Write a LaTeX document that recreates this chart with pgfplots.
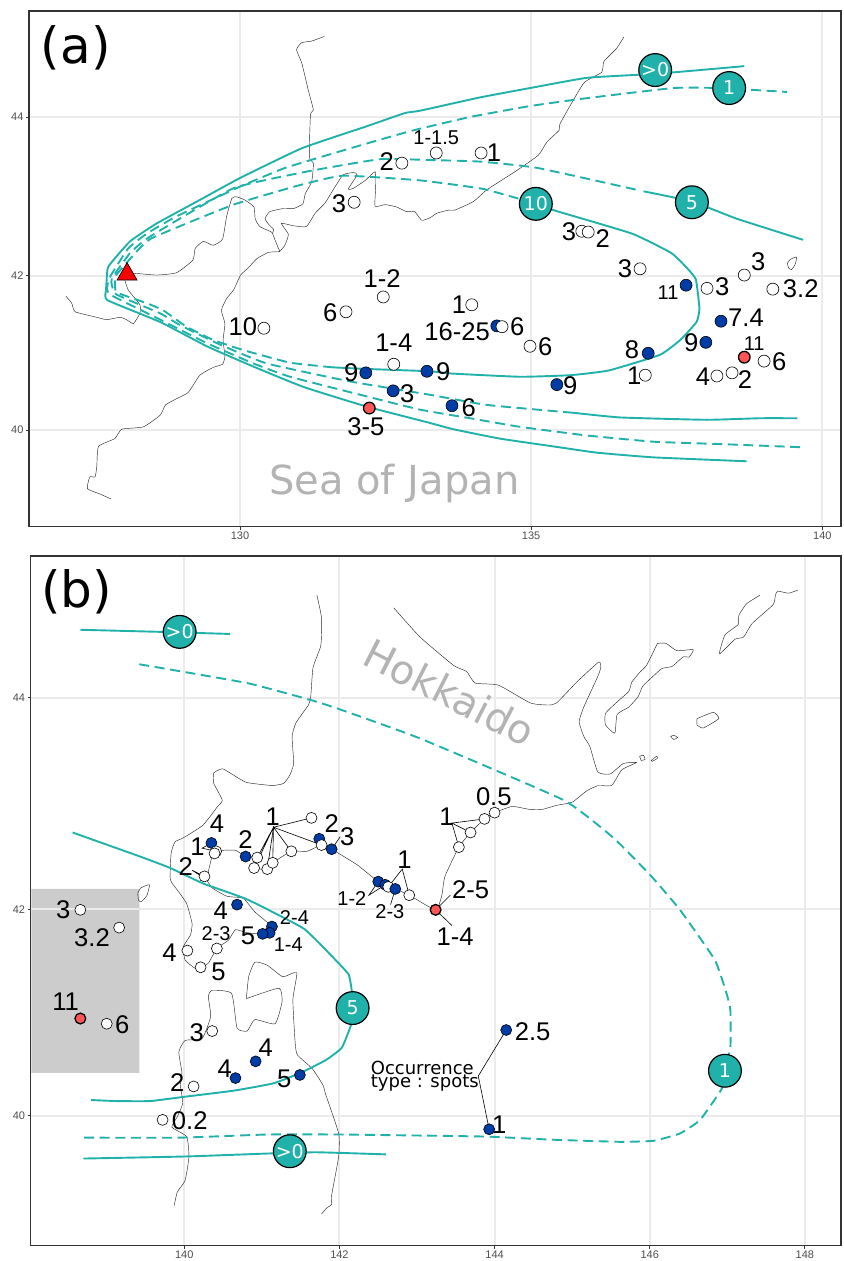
\documentclass[border=0pt]{standalone}
\usepackage{fontspec}
\usepackage{pgfplots}
\pgfplotsset{compat=1.18}
\setmainfont{Liberation Sans}
\newfontfamily\dv{DejaVu Sans}
\definecolor{teal1}{RGB}{32,178,170}
\definecolor{blue1}{RGB}{0,60,165}
\definecolor{red1}{RGB}{255,85,85}
\definecolor{grid1}{RGB}{235,235,235}
\definecolor{frame1}{RGB}{51,51,51}
\definecolor{tick1}{RGB}{77,77,77}
\definecolor{word1}{RGB}{179,179,179}

\newcommand{\lab}[3]{\node[inner sep=0pt,font=\fontsize{12.8}{13}\selectfont] at (axis cs:#1,#2) {#3};}
\newcommand{\slab}[3]{\node[inner sep=0pt,font=\fontsize{10}{11}\selectfont] at (axis cs:#1,#2) {#3};}

\pgfplotsset{
  mapaxis/.style={
    scale only axis, anchor=south west, axis on top=false,
    grid=major, grid style={color=grid1,line width=1pt},
    axis line style={color=frame1,line width=0.7pt},
    tick align=outside, tick pos=lower, major tick length=1.6pt,
    tick style={color=frame1,line width=0.4pt},
    tick label style={font=\fontsize{5.5}{6}\selectfont,text=tick1,inner sep=1pt},
  },
  coast/.style={black!85,line width=0.22pt,smooth,tension=0.3},
  teal/.style={teal1,line width=0.95pt,smooth,tension=0.25},
  tealdash/.style={teal1,line width=0.95pt,smooth,tension=0.25,dash pattern=on 5pt off 2.8pt},
  leader/.style={black,line width=0.3pt},
  openpt/.style={only marks,mark=*,mark size=3pt,mark options={fill=white,draw=black,line width=0.3pt}},
  bluept/.style={only marks,mark=*,mark size=3pt,mark options={fill=blue1,draw=black,line width=0.3pt}},
  redpt/.style={only marks,mark=*,mark size=2.9pt,mark options={fill=red1,draw=black,line width=0.65pt}},
  bigpt/.style={only marks,mark=*,mark size=8.2pt,mark options={fill=teal1,draw=black,line width=0.6pt},
    point meta=explicit symbolic,nodes near coords,
    every node near coord/.append style={anchor=center,inner sep=0pt,text=white,font=\dv\fontsize{9.5}{10}\selectfont}},
}

\begin{document}
\begin{tikzpicture}
\path[use as bounding box] (0,0) rectangle (422pt,630.5pt);

% panel a
\begin{axis}[mapaxis,
  at={(14.5pt,367.15pt)}, width=406pt, height=257.85pt,
  xmin=126.376, xmax=140.321, ymin=38.764, ymax=45.355,
  xtick={130,135,140}, xticklabels={130,135,140},
  ytick={40,41.972,44}, yticklabels={40,42,44}]

\addplot[coast] coordinates {(131.45,45.03)(131.23,44.97)(131.06,44.95)(130.97,44.86)(131.06,44.69)(131.17,44.35)(131.26,44.09)(131.21,44.03)(131.19,43.49)(131.26,43.41)(131.23,43.17)(131.12,43.02)(131.08,42.89)(130.92,42.83)(130.74,42.83)(130.51,42.79)(130.43,42.70)(130.49,42.63)(130.58,42.56)(130.56,42.51)(130.66,42.32)(130.68,42.28)(130.49,42.27)(130.29,42.19)(130.14,42.07)(130.01,41.98)(129.89,41.79)(129.77,41.68)(129.68,41.53)(129.74,41.36)(129.71,41.15)(129.74,40.94)(129.70,40.84)(129.54,40.80)(129.31,40.70)(129.11,40.48)(128.91,40.40)(128.72,40.32)(128.63,40.19)(128.34,40.04)(127.97,40.01)(127.85,39.89)(127.57,39.79)(127.54,39.53)(127.51,39.40)(127.42,39.40)(127.38,39.25)(127.60,39.18)(127.78,39.12)};
\addplot[coast] coordinates {(130.68,42.28)(130.77,42.36)(130.83,42.50)(130.71,42.64)(130.92,42.61)(131.14,42.60)(131.29,42.77)(131.46,42.90)(131.60,43.07)(131.77,43.26)(131.95,43.29)(132.01,43.26)(131.86,43.08)(131.95,43.09)(132.15,43.19)(132.32,43.30)(132.33,43.11)(132.32,42.86)(132.49,42.88)(132.69,42.85)(132.86,42.79)(133.00,42.79)(133.12,42.68)(133.26,42.71)(133.38,42.77)(133.58,42.81)(133.69,42.81)(134.01,42.92)(134.24,43.07)(134.72,43.30)(135.12,43.51)(135.27,43.68)(135.48,43.83)(135.50,43.92)(135.90,44.43)(136.21,44.57)(136.25,44.71)(136.47,44.88)(136.59,45.02)};
\addplot[coast] coordinates {(128.08,42.00)(128.23,42.00)(128.57,41.98)(128.91,42.01)(129.19,42.17)(129.23,42.32)(129.37,42.41)(129.54,42.36)(129.70,42.44)(129.77,42.73)(129.86,42.96)(129.94,42.98)(130.08,42.94)(130.24,42.85)(130.26,42.70)(130.34,42.60)(130.54,42.53)(130.56,42.51)};
\addplot[coast] coordinates {(128.02,41.92)(128.08,41.79)(128.28,41.60)(128.28,41.49)(128.17,41.36)(128.05,41.41)(127.94,41.44)(127.71,41.41)(127.54,41.44)(127.17,41.51)(127.11,41.62)(127.01,41.71)};
\addplot[coast] coordinates {(139.40,42.13)(139.45,42.18)(139.56,42.21)(139.53,42.11)(139.47,42.05)(139.42,42.07)(139.40,42.13)};

% isopach >0
\addplot[teal] coordinates {(138.66,44.65)(137.44,44.57)(136.84,44.54)(135.95,44.50)(134.98,44.37)(134.12,44.25)(133.09,44.08)(132.83,44.05)(132.17,43.88)(131.06,43.60)(130.00,43.22)(129.31,42.94)(128.57,42.64)(128.11,42.41)(127.74,42.09)(127.71,41.92)(127.70,41.79)(127.72,41.66)(128.63,41.38)(129.43,41.07)(130.23,40.81)(131.09,40.55)(132.17,40.30)(133.26,40.09)(133.66,40.01)(134.46,39.89)(135.38,39.79)(136.13,39.71)(137.10,39.65)(138.70,39.60)};
% isopach 1
\addplot[tealdash] coordinates {(139.62,39.78)(138.24,39.82)(137.10,39.85)(135.95,39.93)(134.81,40.04)(133.95,40.15)(133.09,40.26)(132.17,40.43)(130.86,40.68)(130.23,40.85)(129.43,41.11)(128.63,41.41)(127.77,41.73)(127.72,41.83)(127.77,41.96)(128.08,42.32)(128.40,42.51)(128.91,42.73)(130.00,43.11)(130.74,43.34)(131.26,43.46)(132.17,43.66)(132.98,43.83)(133.95,44.00)(134.98,44.14)(135.95,44.24)(137.44,44.37)(138.24,44.37)(139.39,44.32)};
% isopach 5
\addplot[teal] coordinates {(139.57,40.15)(138.93,40.15)(138.01,40.13)(136.53,40.16)(135.72,40.22)};
\addplot[tealdash] coordinates {(135.72,40.22)(134.24,40.32)(133.26,40.45)(131.89,40.62)(130.46,40.85)(129.66,41.09)(128.97,41.34)(128.63,41.49)(127.88,41.73)(127.80,41.85)(127.80,41.94)(128.11,42.26)(128.45,42.47)(129.89,43.09)(131.20,43.31)(132.40,43.46)(133.26,43.45)(134.12,43.43)(135.10,43.35)(136.81,43.07)};
\addplot[teal] coordinates {(136.93,43.05)(137.76,42.92)(138.53,42.70)(139.67,42.43)};
% isopach 10
\addplot[tealdash] coordinates {(131.60,40.80)(130.86,40.86)(130.06,41.02)(129.54,41.15)(129.08,41.32)(128.68,41.53)(128.40,41.62)(127.88,41.76)(127.85,41.92)(127.85,41.96)(128.14,42.21)(128.48,42.45)(129.89,42.88)(131.03,43.13)(131.77,43.25)(133.09,43.19)(134.18,43.08)(135.09,42.89)};
\addplot[teal] coordinates {(131.60,40.80)(132.17,40.78)(133.26,40.75)(133.66,40.72)(134.81,40.68)(135.67,40.70)(136.33,40.76)(137.21,40.96)(137.56,41.15)(137.84,41.38)(137.89,41.55)(137.83,41.92)(137.70,42.05)(137.41,42.26)(136.73,42.51)(135.38,42.81)(135.09,42.89)};

\addplot[bluept] coordinates {(134.41,41.33)};
\addplot[openpt] coordinates {(132.78,43.41)(133.37,43.54)(134.14,43.54)(131.96,42.91)(135.87,42.54)(135.98,42.53)(136.87,42.06)(138.66,41.98)(139.15,41.80)(138.02,41.81)(132.46,41.70)(131.82,41.51)(130.41,41.30)(132.64,40.84)(133.98,41.60)(134.50,41.32)(134.98,41.07)(136.96,40.70)(138.19,40.69)(138.45,40.73)(139.00,40.88)};
\addplot[bluept] coordinates {(132.16,40.73)(133.21,40.75)(132.63,40.50)(133.64,40.31)(135.44,40.58)(137.01,40.98)(137.66,41.85)(138.26,41.39)(138.00,41.12)};
\addplot[redpt] coordinates {(132.22,40.28)(138.66,40.93)};
\addplot[only marks,mark=triangle*,mark size=5.8pt,mark options={fill=red,draw=black,line width=0.35pt}] coordinates {(128.06,41.99)};
\addplot[bigpt] table[meta=l] {
x y l
137.13 44.60 >0
138.40 44.37 1
135.08 42.89 10
137.76 42.91 5
};

\node[font=\dv\fontsize{25}{26}\selectfont,inner sep=0pt] at (axis cs:127.18,44.89) {(a)};
\node[font=\dv\fontsize{20}{21}\selectfont,text=word1,inner sep=0pt,anchor=base] at (axis cs:132.65,39.18) {Sea of Japan};
\lab{132.52}{43.43}{2}\lab{131.70}{42.89}{3}\slab{133.37}{43.74}{1-1.5}\lab{134.36}{43.54}{1}
\lab{135.65}{42.53}{3}\lab{136.23}{42.45}{2}\lab{136.61}{42.06}{3}\lab{138.90}{42.15}{3}
\lab{138.28}{41.83}{3}\lab{139.63}{41.80}{3.2}\slab{137.35}{41.75}{11}\slab{138.83}{41.11}{11}
\lab{138.69}{41.43}{7.4}\lab{137.75}{41.11}{9}\lab{139.26}{40.87}{6}\lab{138.67}{40.65}{2}
\lab{137.95}{40.68}{4}\lab{136.77}{40.70}{1}\lab{136.73}{41.02}{8}\lab{135.67}{40.56}{9}
\lab{133.93}{40.29}{6}\lab{133.49}{40.74}{9}\lab{135.24}{41.06}{6}\lab{134.76}{41.32}{6}
\lab{133.73}{41.25}{16-25}\lab{133.76}{41.60}{1}\lab{132.44}{41.93}{1-2}\lab{131.55}{41.50}{6}
\lab{130.05}{41.32}{10}\lab{132.64}{41.11}{1-4}\lab{131.91}{40.73}{9}\lab{132.87}{40.46}{3}
\lab{132.16}{40.04}{3-5}
\end{axis}

% panel b
\begin{axis}[mapaxis,
  at={(15.35pt,7.65pt)}, width=405.15pt, height=344.85pt,
  xmin=138.02, xmax=148.466, ymin=38.756, ymax=45.356,
  xtick={140,142,144,146,148}, xticklabels={140,142,144,146,148},
  ytick={40,41.975,44}, yticklabels={40,42,44}]

\addplot[draw=none,fill=black!20] coordinates {(138.03,42.17)(139.42,42.17)(139.42,40.41)(138.03,40.41)(138.03,42.17)};
\addplot[grid1,line width=1pt] coordinates {(138.03,41.975)(139.42,41.975)};

\addplot[coast] coordinates {(141.71,44.98)(141.77,44.76)(141.76,44.50)(141.66,44.29)(141.63,44.01)(141.60,43.93)(141.44,43.76)(141.39,43.63)(141.41,43.37)(141.36,43.26)(141.28,43.18)(141.13,43.16)(140.80,43.19)(140.59,43.28)(140.49,43.32)(140.38,43.28)(140.38,43.18)(140.49,43.02)(140.42,42.95)(140.24,42.78)(139.99,42.66)(139.88,42.62)(139.83,42.51)(139.82,42.26)(139.91,42.16)(140.03,42.03)(140.10,41.84)(140.08,41.73)(139.99,41.62)(140.01,41.49)(140.14,41.41)(140.21,41.42)(140.31,41.46)(140.42,41.60)(140.57,41.68)(140.66,41.78)(140.81,41.75)(141.01,41.74)};
\addplot[coast] coordinates {(140.26,42.29)(140.31,42.34)(140.36,42.49)(140.41,42.53)(140.51,42.54)(140.66,42.54)(140.79,42.48)(140.94,42.47)(140.90,42.37)(141.07,42.36)(141.14,42.42)(141.38,42.53)(141.58,42.53)(141.77,42.59)(141.90,42.55)(142.23,42.40)(142.50,42.24)(142.72,42.17)(142.90,42.11)(143.24,41.97)(143.32,42.11)(143.36,42.29)(143.54,42.57)(143.69,42.71)(143.87,42.84)(144.00,42.90)(144.14,42.94)(144.24,42.96)(144.46,42.93)(144.61,42.93)(144.80,42.97)(145.00,43.00)(145.19,43.11)(145.34,43.16)(145.51,43.16)(145.64,43.31)(145.83,43.38)(145.66,43.37)(145.49,43.27)(145.33,43.29)(145.23,43.53)(145.15,43.63)(145.09,43.77)(145.15,43.91)(145.34,44.22)(145.37,44.30)(145.34,44.34)(145.06,44.15)(144.80,43.95)(144.69,43.93)(144.46,43.95)(144.05,44.12)(143.75,44.14)(143.64,44.25)(143.47,44.31)(143.04,44.58)(142.70,44.86)};
\addplot[coast] coordinates {(140.26,42.29)(140.36,42.18)(140.55,42.10)(140.76,42.08)(140.91,41.95)(141.13,41.81)(141.10,41.75)(141.01,41.74)};
\addplot[coast] coordinates {(140.80,41.12)(140.83,41.33)(140.91,41.47)(141.07,41.44)(141.27,41.33)(141.45,41.37)(141.40,41.11)(141.43,40.69)(141.46,40.58)(141.65,40.45)(141.79,40.29)(141.82,40.21)(141.99,39.83)(141.99,39.61)(141.90,39.24)(141.90,39.15)(141.84,39.12)(141.77,39.06)};
\addplot[coast] coordinates {(140.80,41.12)(141.22,41.22)(141.26,41.09)(141.17,40.88)(140.91,40.92)(140.81,40.81)(140.68,40.84)(140.61,41.17)(140.36,41.20)(140.31,41.14)(140.34,40.95)(140.23,40.74)(140.01,40.72)(139.93,40.61)(139.97,40.41)(139.95,40.29)(139.98,40.12)(139.91,39.99)(139.84,39.89)(140.03,39.80)(140.06,39.61)(140.01,39.38)(139.91,39.27)(139.87,39.14)};
\addplot[coast] coordinates {(146.10,44.52)(146.21,44.52)(146.35,44.45)(146.56,44.46)(146.51,44.39)(146.43,44.39)(146.29,44.30)(146.16,44.28)(146.05,44.21)(145.91,44.11)(145.85,44.01)(145.73,43.91)(145.58,43.84)(145.55,43.66)(145.43,43.74)(145.43,43.85)(145.58,43.96)(145.73,44.06)(145.77,44.15)(145.88,44.25)(145.96,44.31)(146.10,44.52)};
\addplot[coast] coordinates {(147.42,44.98)(147.25,44.90)(147.15,44.79)(147.14,44.70)(146.97,44.60)(146.90,44.42)(147.10,44.56)(147.21,44.58)(147.32,44.71)(147.59,44.89)(147.62,44.98)(147.65,45.02)(147.79,45.00)(147.91,45.03)};
\addplot[coast] coordinates {(146.61,43.80)(146.82,43.86)(146.89,43.80)(146.69,43.71)(146.61,43.74)(146.61,43.80)};
\addplot[coast] coordinates {(146.27,43.63)(146.31,43.64)(146.36,43.62)(146.31,43.60)(146.27,43.63)};
\addplot[coast] coordinates {(145.87,43.44)(145.92,43.45)(145.94,43.41)(145.89,43.40)(145.87,43.44)};
\addplot[coast] coordinates {(146.02,43.40)(146.09,43.44)(146.10,43.42)(146.03,43.39)(146.02,43.40)};
\addplot[coast] coordinates {(139.40,42.13)(139.44,42.18)(139.55,42.21)(139.52,42.11)(139.45,42.05)(139.41,42.06)(139.40,42.13)};

\addplot[teal] coordinates {(138.66,44.65)(139.69,44.63)(140.59,44.61)};
\addplot[tealdash] coordinates {(139.42,44.32)(140.81,44.14)(141.62,43.98)(142.00,43.89)(143.04,43.61)(144.89,43.02)(145.53,42.66)(146.01,42.30)(146.39,41.97)(146.84,41.49)(146.99,41.17)(147.04,41.01)(147.04,40.66)(146.97,40.43)(146.93,40.26)(146.65,39.96)(146.39,39.83)(146.05,39.76)(145.62,39.75)(144.76,39.77)(143.90,39.80)(143.04,39.81)(142.00,39.82)(141.07,39.82)(139.95,39.79)(138.64,39.79)};
\addplot[teal] coordinates {(138.70,39.59)(140.03,39.61)(141.15,39.64)(141.71,39.65)(142.60,39.63)};
\addplot[teal] coordinates {(138.56,42.71)(139.43,42.48)(139.82,42.37)(140.25,42.22)(140.81,42.07)(141.54,41.79)(141.95,41.49)(142.12,41.35)(142.16,41.19)(142.17,41.03)(142.15,40.87)(142.03,40.65)(141.82,40.53)(141.50,40.41)(141.15,40.31)(140.64,40.24)(139.99,40.18)(139.56,40.14)(139.13,40.14)(138.80,40.15)};

% leader lines
\addplot[leader] coordinates {(141.15,42.76)(141.64,42.85)(141.15,42.76)(140.94,42.47)(141.15,42.76)(140.90,42.37)(141.15,42.76)(141.07,42.36)(141.15,42.76)(141.14,42.42)(141.15,42.76)(141.38,42.53)(141.15,42.76)(141.77,42.59)};
\addplot[leader] coordinates {(140.35,42.61)(140.23,42.56)(140.41,42.53)};
\addplot[leader] coordinates {(140.26,42.29)(140.10,42.35)(140.26,42.27)};
\addplot[leader] coordinates {(142.01,42.67)(141.90,42.55)};
\addplot[leader] coordinates {(142.90,42.11)(142.81,42.36)(142.63,42.19)};
\addplot[leader] coordinates {(142.50,42.24)(142.38,42.11)(142.59,42.21)};
\addplot[leader] coordinates {(142.66,42.02)(142.72,42.17)};
\addplot[leader] coordinates {(143.43,42.11)(143.24,41.97)(143.45,41.82)};
\addplot[leader] coordinates {(143.87,42.84)(143.45,42.80)(143.69,42.71)(143.45,42.80)(143.54,42.57)};
\addplot[leader] coordinates {(144.15,40.82)(143.79,40.38)(143.93,39.87)};

\addplot[bluept,mark size=2.75pt] coordinates {(140.35,42.61)(140.79,42.48)(141.74,42.65)(142.50,42.24)(142.59,42.21)(140.68,42.02)(141.13,41.81)(141.10,41.75)(141.01,41.74)(140.66,40.36)(140.92,40.52)(141.49,40.39)(144.15,40.82)(143.93,39.87)};
\addplot[openpt,mark size=2.75pt] coordinates {(140.41,42.53)(140.39,42.51)(140.26,42.29)(140.94,42.47)(140.90,42.37)(141.07,42.36)(141.14,42.42)(141.38,42.53)(141.64,42.85)(141.77,42.59)(142.63,42.19)(142.90,42.11)(143.54,42.57)(143.69,42.71)(143.87,42.84)(144.00,42.90)(140.42,41.60)(140.04,41.58)(140.21,41.42)(138.66,41.97)(139.16,41.80)(139.00,40.88)(140.36,40.81)(140.12,40.28)(139.72,39.96)};
\addplot[bluept,mark size=2.75pt] coordinates {(141.90,42.55)(142.72,42.17)};
\addplot[redpt,mark size=2.7pt] coordinates {(143.24,41.97)(138.66,40.93)};
\addplot[bigpt] table[meta=l] {
x y l
139.94 44.63 >0
141.36 39.66 >0
142.17 41.03 5
146.97 40.43 1
};

\node[font=\dv\fontsize{25}{26}\selectfont,inner sep=0pt] at (axis cs:138.61,45.01) {(b)};
\node[font=\dv\fontsize{20}{21}\selectfont,text=word1,inner sep=0pt,rotate=-27] at (axis cs:143.42,44.05) {Hokkaido};
\node[font=\dv\fontsize{9}{9}\selectfont,inner sep=0pt,anchor=base west] at (axis cs:142.40,40.39) {Occurrence};
\node[font=\dv\fontsize{9}{9}\selectfont,inner sep=0pt,anchor=base west] at (axis cs:142.40,40.27) {type : spots};
\lab{140.42}{42.79}{4}\lab{140.17}{42.57}{1}\lab{140.79}{42.64}{2}\lab{141.14}{42.86}{1}
\lab{141.90}{42.80}{2}\lab{142.10}{42.67}{3}\lab{140.02}{42.38}{2}\lab{140.47}{41.96}{4}
\lab{140.82}{41.72}{5}\lab{139.81}{41.56}{4}\lab{140.44}{41.38}{5}\lab{142.84}{42.45}{1}
\lab{143.69}{42.16}{2-5}\lab{143.49}{41.71}{1-4}\lab{143.38}{42.86}{1}\lab{143.99}{43.05}{0.5}
\slab{140.41}{41.74}{2-3}\slab{141.42}{41.90}{2-4}\slab{141.34}{41.64}{1-4}\slab{142.16}{42.08}{1-2}
\slab{142.65}{41.95}{2-3}\lab{138.44}{41.97}{3}\lab{138.81}{41.70}{3.2}\lab{138.47}{41.09}{11}
\lab{139.20}{40.87}{6}\lab{140.16}{40.79}{3}\lab{141.05}{40.65}{4}\lab{140.52}{40.45}{4}
\lab{141.29}{40.35}{5}\lab{139.91}{40.32}{2}\lab{140.07}{39.95}{0.2}\lab{144.49}{40.80}{2.5}
\lab{144.06}{39.91}{1}
\end{axis}
\end{tikzpicture}
\end{document}
